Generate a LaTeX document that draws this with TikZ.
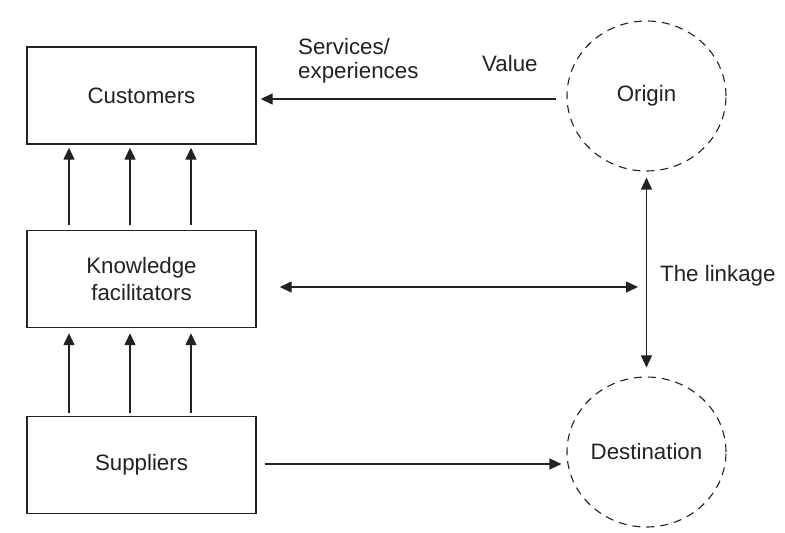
\documentclass[tikz,border=0pt]{standalone}
\usepackage{fontspec}
\setmainfont{Liberation Sans}
\usetikzlibrary{arrows.meta,shapes.geometric}
\definecolor{ink}{HTML}{222222}
\tikzset{
  x=1pt,y=-1pt,
  every node/.style={font=\fontsize{22.3}{27}\selectfont, text=ink},
  boxnode/.style={draw=ink, line width=1.4pt, minimum width=229pt, minimum height=97pt, inner sep=0pt, align=center},
  placenode/.style={draw=ink, line width=1.1pt, dash pattern=on 8pt off 6pt, ellipse, minimum width=159pt, minimum height=150pt, inner sep=0pt},
  arr/.style={draw=ink, line width=1.4pt, -{Triangle[length=12pt,width=11pt]}},
  darr/.style={draw=ink, line width=1.4pt, {Triangle[length=12pt,width=11pt]}-{Triangle[length=12pt,width=11pt]}},
  lbl/.style={inner sep=0pt, align=left}
}
\begin{document}
\begin{tikzpicture}
\useasboundingbox (0,0) rectangle (785,533);
\fill[white] (0,0) rectangle (785,533);
\node[boxnode] (cust) at (141.5,95.5) {Customers};
\node[boxnode] (kf) at (141.5,279) {Knowledge\\facilitators};
\node[boxnode] (sup) at (141.5,465) {Suppliers};
\node[placenode] (origin) at (646.5,96) {Origin};
\node[placenode] (dest) at (646.5,452) {Destination};
\coordinate (c1) at (69,0);
\coordinate (c2) at (130,0);
\coordinate (c3) at (191,0);
\coordinate (top) at (0,99);
\coordinate (mid) at (0,287);
\coordinate (bot) at (0,464);
\coordinate (link) at (646,287);
% vertical arrows
\foreach \c in {c1,c2,c3}{
  \draw[arr, shorten <=5pt, shorten >=3pt] (kf.north -| \c) -- (cust.south -| \c);
  \draw[arr, shorten <=3pt, shorten >=5pt] (sup.north -| \c) -- (kf.south -| \c);
}
\draw[arr, shorten <=10pt, shorten >=4pt] (origin.west |- top) -- (cust.east |- top);
\draw[darr, shorten <=23pt, shorten >=8pt] (kf.east |- mid) -- (link);
\draw[darr, shorten <=6pt, shorten >=9pt] (origin.south) -- (dest.north);
\draw[arr, shorten <=8pt, shorten >=5pt] (sup.east |- bot) -- (dest.west |- bot);
% labels
\node[lbl, anchor=west, font=\fontsize{22.3}{24}\selectfont] (svc) at (298,61) {Services/\\experiences};
\node[lbl, anchor=base west] (val) at (482,71) {Value};
\node[lbl, anchor=base west] (lnk) at (660,281) {The linkage};
\end{tikzpicture}
\end{document}
